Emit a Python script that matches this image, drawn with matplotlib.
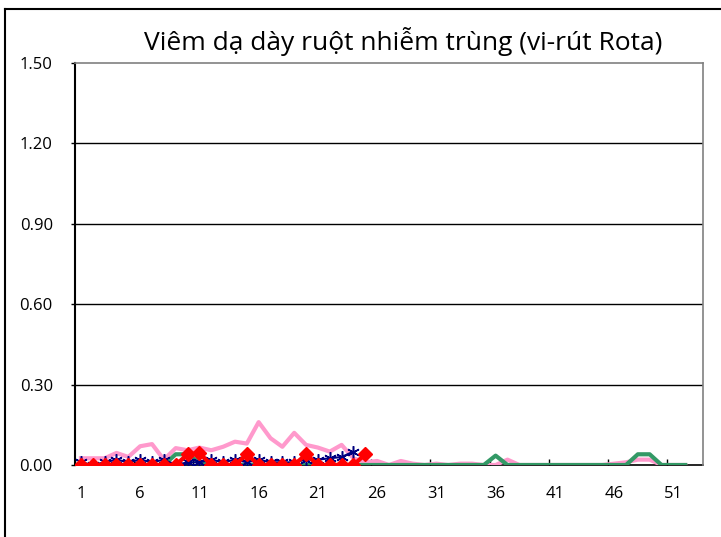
import numpy as np
import matplotlib
matplotlib.use("Agg")
import matplotlib.pyplot as plt
from matplotlib.lines import Line2D

title = "Viêm dạ dày ruột nhiễm trùng (vi-rút Rota)"

# weekly values
pink = [0.025, 0.025, 0.025, 0.045, 0.03, 0.07, 0.078, 0.02, 0.063, 0.055,
        0.065, 0.055, 0.068, 0.087, 0.08, 0.16, 0.1, 0.068, 0.12, 0.075,
        0.065, 0.05, 0.075, 0.025, 0.01, 0.015, 0.0, 0.015, 0.005, 0.0,
        0.005, 0.0, 0.005, 0.005, 0.0, 0.0, 0.02, 0.0, 0.0, 0.0,
        0.0, 0.0, 0.0, 0.0, 0.0, 0.005, 0.01, 0.02, 0.02, 0.0,
        0.0, 0.0]
green = [0.0] * 8 + [0.04, 0.04, 0.01] + [0.0] * 24 + [0.035] + [0.0] * 11 + [0.04, 0.04] + [0.0] * 3
blue = [0.01, 0.0, 0.01, 0.02, 0.01, 0.02, 0.01, 0.02, 0.0, 0.01,
        0.01, 0.02, 0.01, 0.02, 0.01, 0.02, 0.01, 0.01, 0.01, 0.02,
        0.02, 0.025, 0.03, 0.05]
red = [0.0] * 9 + [0.04, 0.045, 0.0, 0.0, 0.0, 0.04, 0.0, 0.0, 0.0, 0.0,
                   0.04, 0.0, 0.0, 0.0, 0.0, 0.04]

n_weeks = 53
label_weeks = list(range(1, 52, 5))
yticks = [0.0, 0.3, 0.6, 0.9, 1.2, 1.5]

plt.rcParams['font.family'] = ['Open Sans', 'DejaVu Sans']

fig = plt.figure(figsize=(7.21, 5.37), dpi=100)
ax = fig.add_axes([75 / 721, 72 / 537, 628 / 721, 402 / 537])

def weeks(vals):
    return np.arange(1, len(vals) + 1)

ax.plot(weeks(pink), pink, color='#FF99CC', lw=3, zorder=3)
ax.plot(weeks(green), green, color='#339966', lw=3, zorder=4)
ax.plot(weeks(blue), blue, color='#000080', lw=1.5, marker=(6, 2, 0),
        markersize=9, markeredgewidth=1.1, zorder=5)
ax.plot(weeks(red), red, color='#FF0000', lw=3, marker='D',
        markersize=7.5, zorder=6)

ax.set_xlim(0.5, n_weeks + 0.5)
ax.set_ylim(0, 1.5)

ax.set_yticks(yticks)
ax.set_yticklabels([f"{v:.2f}" for v in yticks], fontsize=12)
ax.tick_params(axis='y', direction='out', length=3, width=1, pad=13)
for v in yticks[1:-1]:
    ax.axhline(v, color='black', lw=1, zorder=1)

ax.set_xticks(label_weeks)
ax.set_xticklabels([str(w) for w in label_weeks], fontsize=12)
ax.tick_params(axis='x', which='major', length=0, pad=15)
ax.set_xticks(np.arange(0.5, 51, 5), minor=True)
ax.tick_params(axis='x', which='minor', direction='in', length=4, width=1)

ax.spines['left'].set_color('black')
ax.spines['left'].set_linewidth(1.5)
ax.spines['bottom'].set_color('black')
ax.spines['bottom'].set_linewidth(1.2)
ax.spines['bottom'].set_zorder(2)
for s in ['top', 'right']:
    ax.spines[s].set_color('#808080')
    ax.spines[s].set_linewidth(1.2)

fig.text(403 / 721, 1 - 42 / 537, title, fontsize=19, ha='center', va='center')

# outer chart border
fig.add_artist(Line2D([5 / 721, 5 / 721], [0, 1 - 9 / 537], color='black', lw=1.5,
                      transform=fig.transFigure))
fig.add_artist(Line2D([5 / 721, 1], [1 - 9 / 537, 1 - 9 / 537], color='black', lw=1.5,
                      transform=fig.transFigure))

fig.savefig('out.png', dpi=100)
